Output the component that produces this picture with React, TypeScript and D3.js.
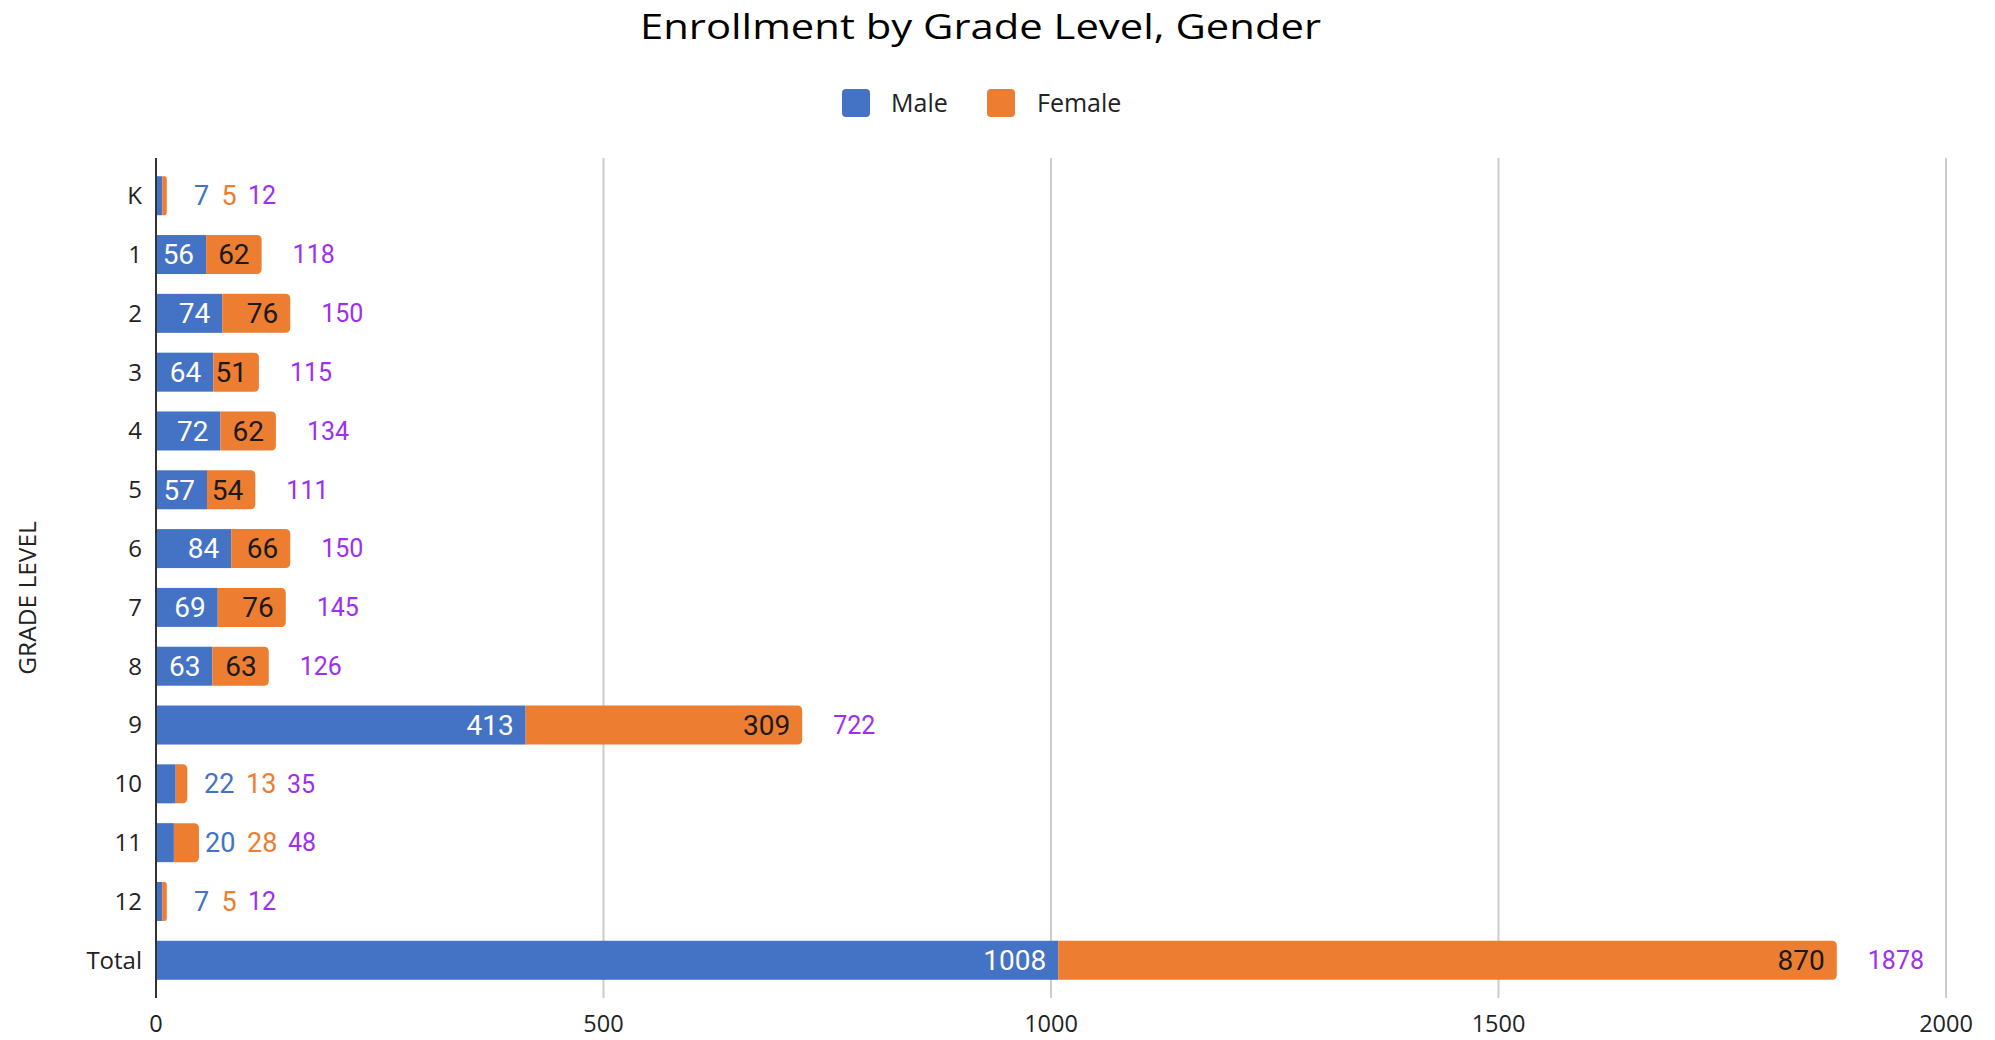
import React from "react";
import * as d3 from "d3";

const grades = ["K", "1", "2", "3", "4", "5", "6", "7", "8", "9", "10", "11", "12", "Total"];
const male = [7, 56, 74, 64, 72, 57, 84, 69, 63, 413, 22, 20, 7, 1008];
const female = [5, 62, 76, 51, 62, 54, 66, 76, 63, 309, 13, 28, 5, 870];
const xTicks = [0, 500, 1000, 1500, 2000];

const W = 1995;
const H = 1040;
const BLUE = "#4472c4";
const ORANGE = "#ed7d31";
const PURPLE = "#9e2ff0";
const FONT = "'Open Sans', sans-serif";
const LABEL_FONT = "Roboto, sans-serif";

// bar with square left end and rounded right end
function roundRight(x0: number, x1: number, y: number, h: number, r: number) {
  const rr = Math.min(r, (x1 - x0) / 2, h / 2);
  return `M${x0},${y}H${x1 - rr}Q${x1},${y} ${x1},${y + rr}V${y + h - rr}Q${x1},${y + h} ${x1 - rr},${y + h}H${x0}Z`;
}

export default function App() {
  const x = d3.scaleLinear().domain([0, 2000]).range([156, 1946]);
  const y = d3
    .scaleBand()
    .domain(grades)
    .range([158, 998])
    .paddingInner(0.337)
    .paddingOuter(0.31);
  const bh = y.bandwidth();

  return (
    <svg
      width={W}
      height={H}
      style={{ display: "block", background: "#fff", position: "absolute", left: 0, top: 0 }}
    >
      <text
        x={640}
        y={39}
        textLength={681}
        lengthAdjust="spacingAndGlyphs"
        fontFamily={FONT}
        fontSize={34}
        fill="#000"
      >
        Enrollment by Grade Level, Gender
      </text>

      {/* legend */}
      <rect x={842} y={89} width={28} height={28} rx={4} fill={BLUE} />
      <text x={891} y={112} fontFamily={FONT} fontSize={25} fill="#222">Male</text>
      <rect x={987} y={89} width={28} height={28} rx={4} fill={ORANGE} />
      <text x={1037} y={112} fontFamily={FONT} fontSize={25} fill="#222">Female</text>

      {/* grid */}
      {xTicks.slice(1).map((t) => (
        <line key={t} x1={x(t)} x2={x(t)} y1={158} y2={998} stroke="#cccccc" strokeWidth={2} />
      ))}
      {xTicks.map((t) => (
        <text key={t} x={x(t)} y={1032} textAnchor="middle" fontFamily={FONT} fontSize={23.5} fill="#222">
          {t}
        </text>
      ))}

      <text
        transform={`translate(27,598) rotate(-90)`}
        textAnchor="middle"
        dy="0.35em"
        fontFamily={FONT}
        fontSize={24.5}
        fill="#222"
      >
        GRADE LEVEL
      </text>

      {grades.map((g, i) => {
        const y0 = y(g)!;
        const cy = y0 + bh / 2;
        const m = male[i];
        const f = female[i];
        const xm = x(m);
        const xt = x(m + f);
        const fits = xm - x(0) > 36;
        return (
          <g key={g}>
            <text x={142} y={cy} dy="0.35em" textAnchor="end" fontFamily={FONT} fontSize={24} fill="#222">
              {g}
            </text>
            <rect x={x(0)} y={y0} width={xm - x(0)} height={bh} fill={BLUE} />
            <path d={roundRight(xm, xt, y0, bh, 5)} fill={ORANGE} />
            {fits ? (
              <>
                <text x={xm - 12} y={cy} dy="0.35em" textAnchor="end" fontFamily={LABEL_FONT} fontSize={28} fill="#fff">
                  {m}
                </text>
                <text x={xt - 12} y={cy} dy="0.35em" textAnchor="end" fontFamily={LABEL_FONT} fontSize={28} fill="#1a1a1a">
                  {f}
                </text>
                <text x={xt + 31} y={cy} dy="0.35em" fontFamily={LABEL_FONT} fontSize={25} fill={PURPLE}>
                  {m + f}
                </text>
              </>
            ) : (
              (() => {
                const start = Math.max(xt + 6, x(0) + 38 + (String(m).length > 1 ? 10 : 0));
                const cw = 14.5;
                const mw = String(m).length * cw;
                const fx = start + mw + 13;
                const fw = String(f).length * cw;
                const tx = fx + fw + 12;
                return (
                  <>
                    <text x={start} y={cy} dy="0.35em" fontFamily={LABEL_FONT} fontSize={27} fill={BLUE}>
                      {m}
                    </text>
                    <text x={fx} y={cy} dy="0.35em" fontFamily={LABEL_FONT} fontSize={27} fill={ORANGE}>
                      {f}
                    </text>
                    <text x={tx} y={cy} dy="0.35em" fontFamily={LABEL_FONT} fontSize={25} fill={PURPLE}>
                      {m + f}
                    </text>
                  </>
                );
              })()
            )}
          </g>
        );
      })}

      <line x1={x(0)} x2={x(0)} y1={158} y2={998} stroke="#333" strokeWidth={2} />
    </svg>
  );
}
